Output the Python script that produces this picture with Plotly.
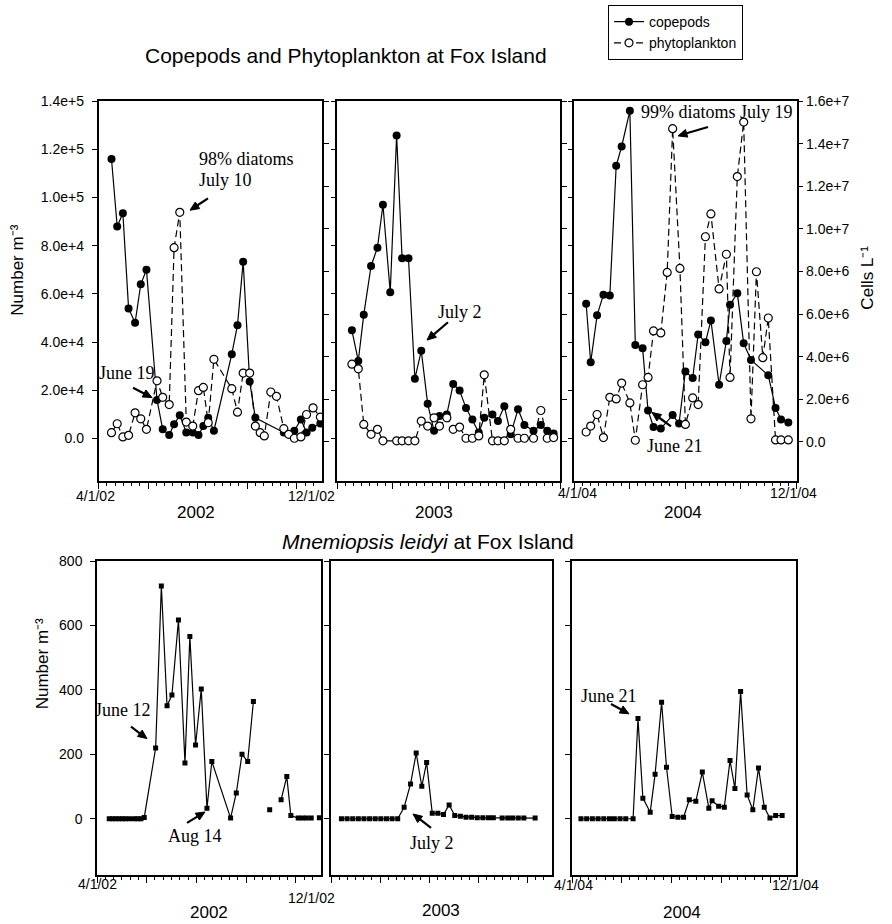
import math
import pandas as pd
import plotly.graph_objects as go

W, H = 892, 924
SANS = "Liberation Sans, Arial, sans-serif"
SERIF = "Liberation Serif, Times New Roman, serif"


def fx(px):
    return px / W


def fy(py):
    return 1 - py / H


# ---------------- data ----------------
# Copepods (number m^-3) and phytoplankton (cells L^-1), Fox Island
cope_2002_dates = ["2002-04-17", "2002-04-24", "2002-05-01", "2002-05-08", "2002-05-16", "2002-05-23",
                   "2002-05-30", "2002-06-12", "2002-06-19", "2002-06-27", "2002-07-03", "2002-07-10",
                   "2002-07-18", "2002-07-26", "2002-08-02", "2002-08-08", "2002-08-14", "2002-08-21",
                   "2002-09-12", "2002-09-19", "2002-09-26", "2002-10-04", "2002-10-11", "2002-11-15",
                   "2002-11-21", "2002-11-28", "2002-12-06", "2002-12-13", "2002-12-20", "2002-12-30"]
cope_2002 = [116000, 88000, 93500, 54000, 48000, 64000, 70000, 16000, 3800, 1400, 5900, 9600,
             2500, 2500, 1400, 5200, 8600, 3200, 35000, 47000, 73400, 23700, 8600, 2500,
             1800, 3200, 7900, 2500, 4500, 6200]

phyto_2002_dates = ["2002-04-17", "2002-04-24", "2002-05-01", "2002-05-08", "2002-05-16", "2002-05-23",
                    "2002-05-30", "2002-06-12", "2002-06-19", "2002-06-27", "2002-07-03", "2002-07-10",
                    "2002-07-18", "2002-07-26", "2002-08-02", "2002-08-08", "2002-08-14", "2002-08-21",
                    "2002-09-12", "2002-09-19", "2002-09-26", "2002-10-04", "2002-10-11", "2002-10-17",
                    "2002-10-22", "2002-10-30", "2002-11-06", "2002-11-15", "2002-11-21", "2002-11-28",
                    "2002-12-06", "2002-12-13", "2002-12-21", "2002-12-30"]
phyto_2002 = [434e3, 853e3, 233e3, 310e3, 1.365e6, 1.086e6, 590e3, 2.87e6, 2.095e6, 1.753e6,
              9.12e6, 1.078e7, 931e3, 745e3, 2.405e6, 2.56e6, 900e3, 3.88e6, 2.5e6, 1.397e6,
              3.23e6, 3.23e6, 745e3, 434e3, 279e3, 2.343e6, 2.141e6, 620e3, 357e3, 171e3,
              233e3, 1.288e6, 1.598e6, 1.164e6]

cope_2003_dates = ["2003-04-17", "2003-04-24", "2003-04-30", "2003-05-08", "2003-05-15", "2003-05-21",
                   "2003-05-29", "2003-06-05", "2003-06-11", "2003-06-18", "2003-06-25", "2003-07-02",
                   "2003-07-09", "2003-07-16", "2003-07-22", "2003-07-30", "2003-08-06", "2003-08-13",
                   "2003-08-20", "2003-08-27", "2003-09-03", "2003-09-09", "2003-09-18", "2003-09-24",
                   "2003-10-01", "2003-10-08", "2003-10-16", "2003-10-23", "2003-11-02", "2003-11-10",
                   "2003-11-17", "2003-11-24"]
cope_2003 = [44900, 32200, 51400, 71600, 79200, 97000, 60700, 125800, 74800, 74800, 24800, 36400,
             14400, 3200, 9300, 10000, 22600, 19900, 12700, 7900, 2500, 8600, 10000, 7300,
             13400, 1800, 12100, 5600, 3200, 5600, 3200, 2100]

phyto_2003_dates = ["2003-04-17", "2003-04-24", "2003-04-30", "2003-05-08", "2003-05-15", "2003-05-21",
                    "2003-06-05", "2003-06-11", "2003-06-18", "2003-06-25", "2003-07-02", "2003-07-09",
                    "2003-07-16", "2003-07-22", "2003-07-30", "2003-08-06", "2003-08-13", "2003-08-20",
                    "2003-08-27", "2003-09-03", "2003-09-09", "2003-09-18", "2003-09-24", "2003-10-01",
                    "2003-10-08", "2003-10-16", "2003-10-23", "2003-11-02", "2003-11-10", "2003-11-17",
                    "2003-11-24"]
phyto_2003 = [3.65e6, 3.43e6, 822e3, 357e3, 590e3, 50e3, 50e3, 50e3, 50e3, 50e3,
              977e3, 745e3, 1.133e6, 745e3, 1.133e6, 590e3, 698e3, 171e3, 171e3, 279e3,
              3.15e6, 50e3, 50e3, 50e3, 590e3, 171e3, 171e3, 171e3, 1.474e6, 171e3, 202e3]

cope_2004_dates = ["2004-04-14", "2004-04-19", "2004-04-26", "2004-05-03", "2004-05-10", "2004-05-17",
                   "2004-05-23", "2004-06-01", "2004-06-07", "2004-06-15", "2004-06-21", "2004-06-27",
                   "2004-07-05", "2004-07-18", "2004-07-25", "2004-08-01", "2004-08-09", "2004-08-15",
                   "2004-08-23", "2004-08-29", "2004-09-07", "2004-09-15", "2004-09-19", "2004-09-27",
                   "2004-10-04", "2004-10-12", "2004-10-31", "2004-11-08", "2004-11-14", "2004-11-22"]
cope_2004 = [55900, 31600, 51100, 59700, 59300, 113200, 121200, 136000, 38800, 37400, 11600, 4800,
             4100, 9700, 6200, 27800, 25100, 43200, 39900, 49000, 22300, 40500, 55500, 60300,
             39500, 32600, 26200, 12700, 7900, 6600]

phyto_2004_dates = ["2004-04-14", "2004-04-19", "2004-04-26", "2004-05-03", "2004-05-10", "2004-05-17",
                    "2004-05-23", "2004-06-01", "2004-06-07", "2004-06-15", "2004-06-21", "2004-06-27",
                    "2004-07-05", "2004-07-12", "2004-07-18", "2004-07-26", "2004-08-01", "2004-08-09",
                    "2004-08-15", "2004-08-23", "2004-08-29", "2004-09-07", "2004-09-15", "2004-09-19",
                    "2004-09-27", "2004-10-04", "2004-10-12", "2004-10-18", "2004-10-25", "2004-10-31",
                    "2004-11-08", "2004-11-14", "2004-11-22"]
phyto_2004 = [465e3, 745e3, 1.288e6, 202e3, 2.095e6, 2.017e6, 2.762e6, 1.831e6, 78e3, 2.684e6,
              3.026e6, 5.213e6, 5.12e6, 7.96e6, 1.471e7, 8.146e6, 822e3, 2.064e6, 1.753e6, 9.635e6,
              1.0706e7, 7.184e6, 8.813e6, 3.026e6, 1.246e7, 1.502e7, 1.086e6, 7.99e6, 3.957e6,
              5.818e6, 93e3, 93e3, 93e3]

# Mnemiopsis leidyi (number m^-3); None marks a missing sample
mnem_2002_dates = ["2002-04-16", "2002-04-20", "2002-04-24", "2002-04-28", "2002-05-02", "2002-05-06",
                   "2002-05-11", "2002-05-17", "2002-05-21", "2002-05-25", "2002-05-29", "2002-06-12",
                   "2002-06-19", "2002-06-26", "2002-07-02", "2002-07-10", "2002-07-18", "2002-07-24",
                   "2002-07-31", "2002-08-07", "2002-08-14", "2002-08-20", "2002-09-12", "2002-09-19",
                   "2002-09-26", "2002-10-03", "2002-10-10", "2002-10-20", "2002-10-30", "2002-11-06",
                   "2002-11-13", "2002-11-20", "2002-11-25", "2002-12-04", "2002-12-09", "2002-12-14",
                   "2002-12-20", "2002-12-25", "2002-12-30"]
mnem_2002 = [0, 0, 0, 0, 0, 0, 0, 0, 0, 0, 4, 220, 723, 351, 384, 617, 173, 566, 229, 403, 33, 178,
             2, 80, 200, 178, 364, None, 28, None, 59, 131, 10, 2, 2, 2, 2, None, 3]

mnem_2003_dates = ["2003-04-14", "2003-04-21", "2003-04-28", "2003-05-05", "2003-05-12", "2003-05-19",
                   "2003-05-26", "2003-06-02", "2003-06-09", "2003-06-16", "2003-06-23", "2003-07-01",
                   "2003-07-09", "2003-07-16", "2003-07-23", "2003-07-29", "2003-08-05", "2003-08-12",
                   "2003-08-19", "2003-08-26", "2003-09-02", "2003-09-09", "2003-09-16", "2003-09-23",
                   "2003-09-30", "2003-10-07", "2003-10-14", "2003-10-20", "2003-10-31", "2003-11-07",
                   "2003-11-13", "2003-11-20", "2003-11-27", "2003-12-11"]
mnem_2003 = [0, 0, 0, 0, 0, 0, 0, 0, 0, 0, 0, 36, 108, 204, 101, 175, 17, 17, 13, 43, 10, 8,
             5, 5, 3, 3, 3, 3, 2, 2, 2, 2, 2, 2]

mnem_2004_dates = ["2004-04-12", "2004-04-19", "2004-04-26", "2004-05-03", "2004-05-10", "2004-05-17",
                   "2004-05-23", "2004-05-30", "2004-06-06", "2004-06-15", "2004-06-21", "2004-06-27",
                   "2004-07-06", "2004-07-12", "2004-07-20", "2004-07-26", "2004-08-02", "2004-08-09",
                   "2004-08-16", "2004-08-23", "2004-08-31", "2004-09-08", "2004-09-16", "2004-09-20",
                   "2004-09-28", "2004-10-05", "2004-10-12", "2004-10-18", "2004-10-25", "2004-11-02",
                   "2004-11-09", "2004-11-16", "2004-11-23", "2004-11-30", "2004-12-07", "2004-12-15"]
mnem_2004 = [0, 0, 0, 0, 0, 0, 0, 0, 0, 0, 311, 64, 20, 138, 362, 160, 7, 5, 5, 59, 54, 145,
             33, 56, 39, 36, 181, 94, 395, 74, 28, 158, 36, 2, 10, 10]

years = [2002, 2003, 2004]

# axis tick labels
cope_ticks = [0, 2e4, 4e4, 6e4, 8e4, 1e5, 1.2e5, 1.4e5]
cope_ticktext = ["0.0", "2.0e+4", "4.0e+4", "6.0e+4", "8.0e+4", "1.0e+5", "1.2e+5", "1.4e+5"]
phyto_ticks = [0, 2e6, 4e6, 6e6, 8e6, 1e7, 1.2e7, 1.4e7, 1.6e7]
phyto_ticktext = ["0.0", "2.0e+6", "4.0e+6", "6.0e+6", "8.0e+6", "1.0e+7", "1.2e+7", "1.4e+7", "1.6e+7"]
mnem_ticks = [0, 200, 400, 600, 800]

# ---------------- geometry (pixels) ----------------
top_cols = [(98.5, 322), (337.3, 560), (574.3, 796.5)]
bot_cols = [(97, 321), (331, 552), (572, 796)]
TOP_Y = (94, 477)
BOT_Y = (558, 875)
top_xrange = [("2002-04-01", "2003-01-01"), ("2003-04-01", "2003-12-01"), ("2004-04-01", "2004-12-01")]
bot_xrange = [("2002-04-01", "2003-01-01"), ("2003-04-01", "2004-01-01"), ("2004-04-01", "2005-01-01")]
top_minor_parts = [6, 7, 7]


def major_ticks(year):
    return [str(d.date()) for d in pd.date_range(f"{year}-04-01", periods=5, freq="2MS")]


def minor_ticks(year, parts, end):
    majors = pd.date_range(f"{year}-04-01", periods=6, freq="2MS")
    out = []
    for a, b in zip(majors[:-1], majors[1:]):
        step = (b - a) / parts
        out += [a + step * i for i in range(1, parts)]
    return [t.strftime("%Y-%m-%d %H:%M") for t in out if t < pd.Timestamp(end)]


AX = dict(showline=True, linecolor="black", linewidth=1.5, showgrid=False, zeroline=False,
          ticks="outside", tickcolor="black", tickwidth=1,
          tickfont=dict(family=SANS, size=14, color="black"))

fig = go.Figure()

cope_dates = [cope_2002_dates, cope_2003_dates, cope_2004_dates]
cope_vals = [cope_2002, cope_2003, cope_2004]
phyto_dates = [phyto_2002_dates, phyto_2003_dates, phyto_2004_dates]
phyto_vals = [phyto_2002, phyto_2003, phyto_2004]
mnem_dates = [mnem_2002_dates, mnem_2003_dates, mnem_2004_dates]
mnem_vals = [mnem_2002, mnem_2003, mnem_2004]

layout_axes = {}
for i, yr in enumerate(years):
    k = i + 1
    # top row: copepods on left axis, phytoplankton on overlaid right axis
    fig.add_trace(go.Scatter(
        x=cope_dates[i], y=cope_vals[i], mode="lines+markers", name="copepods",
        showlegend=(i == 0), line=dict(color="black", width=1.2),
        marker=dict(symbol="circle", size=8, color="black"),
        xaxis=f"x{k}", yaxis=f"y{k}"))
    fig.add_trace(go.Scatter(
        x=phyto_dates[i], y=phyto_vals[i], mode="lines+markers", name="phytoplankton",
        showlegend=(i == 0), line=dict(color="black", width=1.2, dash="7px,4px"),
        marker=dict(symbol="circle", size=8, color="white", line=dict(color="black", width=1.2)),
        xaxis=f"x{k}", yaxis=f"y{k + 3}"))
    # bottom row: Mnemiopsis
    fig.add_trace(go.Scatter(
        x=mnem_dates[i], y=mnem_vals[i], mode="lines+markers", showlegend=False,
        connectgaps=False, line=dict(color="black", width=1.2),
        marker=dict(symbol="square", size=5, color="black"),
        xaxis=f"x{k + 3}", yaxis=f"y{k + 6}"))

    l, r = top_cols[i]
    layout_axes[f"xaxis{k}"] = dict(
        AX, domain=[fx(l), fx(r)], anchor=f"y{k}", type="date", range=list(top_xrange[i]),
        mirror=True, tickmode="array", tickvals=major_ticks(yr), ticklen=6, showticklabels=False,
        minor=dict(tickmode="array", tickvals=minor_ticks(yr, top_minor_parts[i], top_xrange[i][1]),
                   ticks="outside", ticklen=3, tickcolor="black", tickwidth=1))
    layout_axes[f"yaxis{k}"] = dict(
        AX, domain=[fy(TOP_Y[1]), fy(TOP_Y[0])], anchor=f"x{k}", range=[-17600, 140000],
        tickmode="array", tickvals=cope_ticks, ticktext=cope_ticktext, ticklen=5,
        showticklabels=(i == 0), ticklabelstandoff=5)
    layout_axes[f"yaxis{k + 3}"] = dict(
        AX, overlaying=f"y{k}", anchor=f"x{k}", side="right", range=[-1.83e6, 1.6e7],
        tickmode="array", tickvals=phyto_ticks, ticktext=phyto_ticktext, ticklen=5,
        showticklabels=(i == 2))

    l, r = bot_cols[i]
    layout_axes[f"xaxis{k + 3}"] = dict(
        AX, domain=[fx(l), fx(r)], anchor=f"y{k + 6}", type="date", range=list(bot_xrange[i]),
        mirror=True, tickmode="array", tickvals=major_ticks(yr), ticklen=6, showticklabels=False,
        minor=dict(tickmode="array", tickvals=minor_ticks(yr, 6, bot_xrange[i][1]),
                   ticks="outside", ticklen=3, tickcolor="black", tickwidth=1))
    layout_axes[f"yaxis{k + 6}"] = dict(
        AX, domain=[fy(BOT_Y[1]), fy(BOT_Y[0])], anchor=f"x{k + 3}", range=[-176, 800],
        mirror=True, tickmode="array", tickvals=mnem_ticks, ticklen=5,
        showticklabels=(i == 0), ticklabelstandoff=5)

# ---------------- text ----------------
ann = []
shapes = []


def text(s, x, y, size=14, family=SANS, xanchor="center", angle=0):
    ann.append(dict(text=s, x=fx(x), y=fy(y), xref="paper", yref="paper", showarrow=False,
                    xanchor=xanchor, yanchor="middle", textangle=angle,
                    font=dict(family=family, size=size, color="black")))


def arrow(tail, head, head_len=9.0, half_w=4.0):
    """Pointer arrow drawn as a line plus a filled triangular head."""
    dx, dy = head[0] - tail[0], head[1] - tail[1]
    n = math.hypot(dx, dy)
    ux, uy = dx / n, dy / n
    bx, by = head[0] - ux * head_len, head[1] - uy * head_len
    px, py = -uy * half_w, ux * half_w
    shapes.append(dict(type="line", xref="paper", yref="paper",
                       x0=fx(tail[0]), y0=fy(tail[1]), x1=fx(bx), y1=fy(by),
                       line=dict(color="black", width=2.2)))
    path = (f"M {fx(head[0])} {fy(head[1])} L {fx(bx + px)} {fy(by + py)} "
            f"L {fx(bx - px)} {fy(by - py)} Z")
    shapes.append(dict(type="path", xref="paper", yref="paper", path=path,
                       fillcolor="black", line=dict(color="black", width=1)))


# titles
text("Copepods and Phytoplankton at Fox Island", 346, 48, size=21)
text("<i>Mnemiopsis leidyi</i> at Fox Island", 428, 538, size=21)

# axis titles
text("Number m\u207b\u00b3", 18, 265, size=17, angle=-90)
text("Number m\u207b\u00b3", 42, 662, size=17, angle=-90)
text("Cells L\u207b\u00b9", 868, 272, size=17, angle=-90)

# year labels
for s, x, y in [("2002", 196, 509), ("2003", 434, 509), ("2004", 683, 509),
                ("2002", 209, 912), ("2003", 441, 910), ("2004", 682, 912)]:
    text(s, x, y, size=17)

# date labels at the ends of the outer axes
for s, x, y in [("4/1/02", 95, 492), ("12/1/02", 311.5, 492), ("4/1/04", 577.5, 489),
                ("12/1/04", 793, 489), ("4/1/02", 97, 884), ("12/1/02", 311.5, 898),
                ("4/1/04", 573.5, 885), ("12/1/04", 795, 885)]:
    text(s, x, y, size=14)

# event notes
for s, x, y in [("98% diatoms", 196.7, 152.7), ("July 10", 196.7, 173), ("June 19", 97, 368),
                ("July 2", 436, 307), ("99% diatoms July 19", 639, 105), ("June 21", 645, 442),
                ("June 12", 93, 708), ("Aug 14", 166, 835), ("July 2", 408, 842),
                ("June 21", 579, 694)]:
    text(s, x, y, size=18, family=SERIF, xanchor="left")

arrow((208, 192), (190, 204))
arrow((133, 383), (152, 393))
arrow((448, 317), (427, 335))
arrow((708, 120), (678, 129))
arrow((671, 422), (652, 408))
arrow((131, 725), (147, 737))
arrow((187, 822), (205, 811))
arrow((431, 827), (413, 813))
arrow((611, 702), (629, 712))

fig.update_layout(
    width=W, height=H, margin=dict(l=0, r=0, t=0, b=0),
    paper_bgcolor="white", plot_bgcolor="white",
    font=dict(family=SANS, color="black"),
    annotations=ann, shapes=shapes,
    legend=dict(x=fx(743), xanchor="right", y=fy(-3), yanchor="top",
                bgcolor="white", bordercolor="black", borderwidth=1,
                font=dict(family=SANS, size=14, color="black"), tracegroupgap=0),
    **layout_axes,
)

fig.write_html("out.html")
